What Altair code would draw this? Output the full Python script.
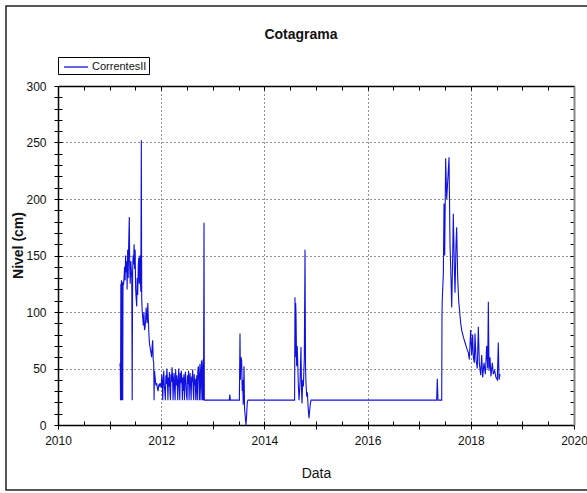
import altair as alt
import pandas as pd

SERIES = "CorrentesII"

# --- readings (decimal year, level in cm), grouped by period ---
yr_2011 = [2011.200, 2011.207, 2011.212, 2011.218, 2011.224, 2011.230, 2011.236, 2011.242,
           2011.248, 2011.254, 2011.260, 2011.270, 2011.280, 2011.290, 2011.300, 2011.310,
           2011.320, 2011.330, 2011.340, 2011.350, 2011.360, 2011.370, 2011.382, 2011.390,
           2011.400, 2011.410, 2011.420, 2011.430, 2011.438, 2011.446, 2011.455, 2011.465,
           2011.475, 2011.485, 2011.495, 2011.505, 2011.515, 2011.525, 2011.535, 2011.545,
           2011.555, 2011.565, 2011.575, 2011.585, 2011.595, 2011.605, 2011.615, 2011.622,
           2011.632, 2011.642, 2011.654, 2011.665, 2011.676, 2011.686, 2011.697, 2011.708,
           2011.718, 2011.728, 2011.740, 2011.750, 2011.762, 2011.773, 2011.783, 2011.795,
           2011.805, 2011.815, 2011.825, 2011.835, 2011.845, 2011.855, 2011.862, 2011.870,
           2011.880, 2011.890, 2011.900, 2011.912, 2011.925, 2011.940, 2011.955, 2011.965,
           2011.977]
lv_2011 = [52, 55, 22, 125, 22, 128, 22, 126,
           122, 22, 127, 124, 130, 140, 128, 150,
           135, 145, 120, 155, 130, 160, 184, 140,
           125, 145, 138, 130, 22, 135, 150, 142,
           160, 138, 155, 120, 112, 105, 130, 115,
           140, 148, 125, 150, 130, 118, 252, 112,
           100, 95, 88, 100, 84, 86, 92, 104,
           96, 90, 108, 95, 80, 72, 69, 66,
           63, 60, 70, 75, 58, 55, 22, 48,
           43, 38, 35, 37, 33, 30, 36, 34,
           37]

yr_2012 = [2012.00, 2012.01, 2012.02, 2012.03, 2012.04, 2012.05, 2012.06, 2012.07, 2012.08, 2012.09,
           2012.10, 2012.11, 2012.12, 2012.13, 2012.14, 2012.15, 2012.16, 2012.17, 2012.18, 2012.19,
           2012.20, 2012.21, 2012.22, 2012.23, 2012.24, 2012.25, 2012.26, 2012.27, 2012.28, 2012.29,
           2012.30, 2012.31, 2012.32, 2012.33, 2012.34, 2012.35, 2012.36, 2012.37, 2012.38, 2012.39,
           2012.40, 2012.41, 2012.42, 2012.43, 2012.44, 2012.45, 2012.46, 2012.47, 2012.48, 2012.49,
           2012.50, 2012.51, 2012.52, 2012.53, 2012.54, 2012.55, 2012.56, 2012.57, 2012.58, 2012.59,
           2012.60, 2012.61, 2012.62, 2012.63, 2012.64, 2012.65, 2012.66, 2012.67, 2012.68, 2012.69,
           2012.70, 2012.71, 2012.72, 2012.73, 2012.74, 2012.75, 2012.76, 2012.77, 2012.78, 2012.79,
           2012.80, 2012.81, 2012.82, 2012.83, 2012.836]
lv_2012 = [33, 45, 38, 22, 40, 48, 35, 30, 22, 44,
           36, 50, 41, 22, 42, 34, 47, 28, 22, 45,
           38, 51, 43, 22, 40, 46, 31, 22, 49, 35,
           44, 38, 22, 41, 50, 33, 22, 46, 37, 48,
           40, 22, 42, 30, 45, 22, 39, 47, 36, 26,
           22, 44, 36, 48, 22, 40, 46, 34, 22, 43,
           38, 49, 30, 22, 45, 35, 41, 22, 37, 44,
           22, 48, 52, 40, 22, 54, 45, 22, 57, 50,
           22, 58, 22, 179, 22]

yr_2013 = [2013.320, 2013.330, 2013.340, 2013.515, 2013.527, 2013.535, 2013.545, 2013.559,
           2013.570, 2013.578, 2013.590, 2013.605, 2013.615, 2013.624, 2013.635, 2013.643,
           2013.655, 2013.668, 2013.682]
lv_2013 = [22, 27, 22, 22, 81, 40, 60, 57,
           30, 40, 18, 52, 15, 10, 4, 0,
           8, 20, 22]

yr_2014 = [2014.585, 2014.593, 2014.600, 2014.606, 2014.612, 2014.625, 2014.635, 2014.645,
           2014.658, 2014.671, 2014.690, 2014.709, 2014.720, 2014.729, 2014.742, 2014.755,
           2014.774, 2014.787, 2014.797, 2014.806, 2014.820, 2014.832, 2014.845, 2014.851,
           2014.864, 2014.875, 2014.884, 2014.895, 2014.903]
lv_2014 = [22, 113, 60, 108, 99, 52, 70, 57,
           35, 22, 37, 69, 30, 19, 40, 34,
           60, 155, 50, 37, 25, 29, 18, 13,
           6, 12, 16, 20, 22]

yr_2017 = [2017.338, 2017.351, 2017.364, 2017.436, 2017.442, 2017.448, 2017.455, 2017.468,
           2017.481, 2017.494, 2017.513, 2017.533, 2017.552, 2017.578, 2017.597, 2017.616,
           2017.630, 2017.649, 2017.661, 2017.681, 2017.694, 2017.713, 2017.726, 2017.746,
           2017.765, 2017.777, 2017.804, 2017.823, 2017.855, 2017.888, 2017.920, 2017.952,
           2017.971, 2017.984, 2017.997, 2018.017, 2018.036, 2018.049, 2018.068, 2018.081,
           2018.101, 2018.126, 2018.146, 2018.165, 2018.192, 2018.211, 2018.230, 2018.256,
           2018.282, 2018.308, 2018.327, 2018.340, 2018.353, 2018.372, 2018.391, 2018.417,
           2018.436, 2018.462, 2018.488, 2018.514, 2018.533, 2018.547, 2018.566]
lv_2017 = [22, 41, 22, 22, 99, 112, 120, 134,
           196, 150, 236, 200, 215, 237, 160, 130,
           104, 150, 187, 140, 117, 160, 175, 130,
           110, 104, 90, 84, 78, 73, 68, 64,
           58, 70, 84, 62, 80, 60, 55, 81,
           58, 50, 87, 55, 44, 62, 42, 55,
           45, 70, 50, 109, 48, 60, 43, 55,
           45, 48, 42, 40, 73, 40, 45]

x_ticks = [2010 + 0.5 * i for i in range(21)]
y_ticks = list(range(0, 301, 10))

years = yr_2011 + yr_2012 + yr_2013 + yr_2014 + yr_2017
levels = lv_2011 + lv_2012 + lv_2013 + lv_2014 + lv_2017
df = pd.DataFrame({"Data": years, "Nivel": levels, "Serie": SERIES})

FONT = "Liberation Sans, Arial, sans-serif"
W, H = 516, 339

xscale = alt.Scale(domain=[2010, 2020], nice=False, zero=False)
yscale = alt.Scale(domain=[0, 300], nice=False, zero=True)

common_axis = dict(tickSize=4, tickColor="#000", tickWidth=1, grid=False,
                   labels=False, title=None, domain=False)

# main layer: line, labelled axes (outer ticks), dotted grid
main = alt.Chart(df).mark_line(strokeWidth=1.1, interpolate="linear").encode(
    x=alt.X("Data:Q", scale=xscale, axis=alt.Axis(
        values=x_ticks, format="d", orient="bottom",
        labelExpr="datum.value % 2 == 0 ? datum.label : ''",
        labelFont=FONT, labelFontSize=12, labelColor="#111", labelPadding=6,
        labelFlush=False, labelOverlap=False,
        tickSize=4, tickColor="#000", tickWidth=1,
        domainColor="#000", domainWidth=1.5,
        grid=True, gridColor="#222", gridDash=[1, 3], gridWidth=1,
        gridOpacity={"condition": {"test": "datum.value % 2 == 0", "value": 1}, "value": 0},
        title="Data", titleFont=FONT, titleFontSize=14, titleFontWeight="normal",
        titleColor="#111", titleX=258, titleY=52, titleBaseline="alphabetic",
        titleAlign="center")),
    y=alt.Y("Nivel:Q", scale=yscale, axis=alt.Axis(
        values=y_ticks, orient="left",
        labelExpr="datum.value % 50 == 0 ? datum.label : ''",
        labelFont=FONT, labelFontSize=12, labelColor="#111", labelPadding=8,
        labelFlush=False, labelOverlap=False,
        tickSize=4, tickColor="#000", tickWidth=1,
        domainColor="#000", domainWidth=1.5,
        grid=True, gridColor="#222", gridDash=[1, 3], gridWidth=1,
        gridOpacity={"condition": {"test": "datum.value % 50 == 0", "value": 1}, "value": 0},
        title="Nivel (cm)", titleFont=FONT,
        titleFontSize=14, titleFontWeight="bold", titleColor="#111",
        titleAngle=270, titleX=-40, titleY=159, titleBaseline="middle",
        titleAlign="center")),
    color=alt.Color("Serie:N", scale=alt.Scale(range=["#1010e0"]), legend=alt.Legend(
        title=None, orient="none", legendX=0, legendY=-29,
        strokeColor="#000", fillColor="#fff", padding=2,
        symbolType="M-1.7,0H1.7", symbolSize=196, symbolStrokeWidth=1.3,
        symbolOffset=8, labelOffset=8,
        labelFont=FONT, labelFontSize=11, labelColor="#111")),
)

# inward ticks at bottom-left edges
inner_bl = alt.Chart(df).mark_line(opacity=0).encode(
    x=alt.X("Data:Q", scale=xscale, axis=alt.Axis(values=x_ticks, orient="top", offset=-H, **common_axis)),
    y=alt.Y("Nivel:Q", scale=yscale, axis=alt.Axis(values=y_ticks, orient="right", offset=-W, **common_axis)),
)

# top and right frame edges with inward ticks
top_axis = dict(common_axis)
top_axis.update(domain=True, domainColor="#000", domainWidth=1.5)
right_axis = dict(common_axis)
right_axis.update(domain=True, domainColor="#888", domainWidth=2)
inner_tr = alt.Chart(df).mark_line(opacity=0).encode(
    x=alt.X("Data:Q", scale=xscale, axis=alt.Axis(values=x_ticks, orient="bottom", offset=-H, **top_axis)),
    y=alt.Y("Nivel:Q", scale=yscale, axis=alt.Axis(values=y_ticks, orient="left", offset=-W, **right_axis)),
)

frame = alt.Chart(pd.DataFrame({"k": [0]})).mark_rect(
    filled=False, stroke="#222", strokeWidth=1.5
).encode(
    x=alt.value(-52), x2=alt.value(540), y=alt.value(-80), y2=alt.value(404)
)

chart = alt.layer(frame, inner_bl, inner_tr, main).resolve_axis(
    x="independent", y="independent"
).properties(
    width=W, height=H,
    title=alt.TitleParams("Cotagrama", font=FONT, fontSize=14, fontWeight="bold",
                          color="#111", anchor="middle", frame="group", dx=-15,
                          offset=0, dy=37),
    autosize=alt.AutoSizeParams(type="none"),
    padding={"left": 58, "top": 86, "right": 13, "bottom": 68},
    background="#ffffff",
).configure_view(strokeWidth=0)

chart.save("out.html", embed_options={"renderer": "svg", "actions": False})
